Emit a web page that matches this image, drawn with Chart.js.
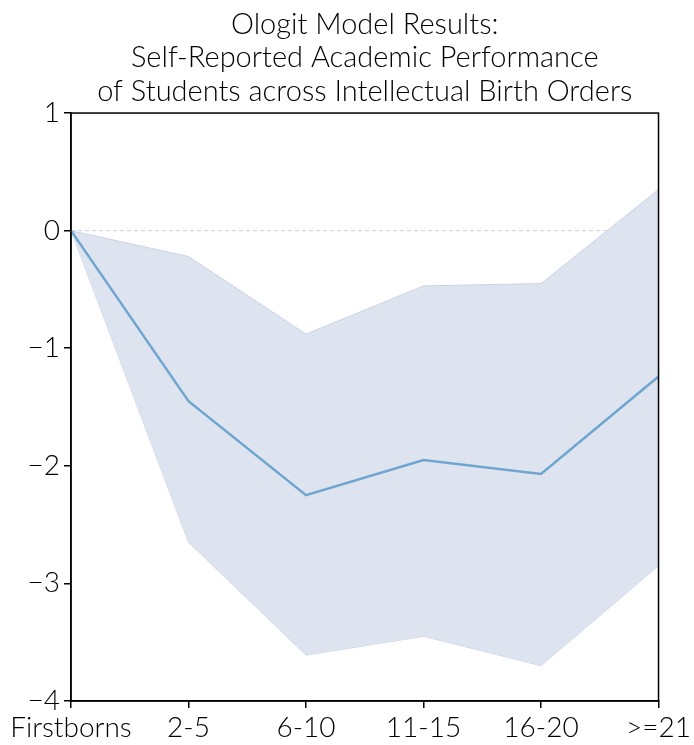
<!DOCTYPE html>
<html><head><meta charset="utf-8">
<script src="https://cdn.jsdelivr.net/npm/chart.js@4"></script>
<style>html,body{margin:0;padding:0;background:#fff}#wrap{width:694px;height:745px}</style>
</head><body><div id="wrap"><canvas id="c" width="694" height="745"></canvas></div>
<script>
const categories = ["Firstborns","2-5","6-10","11-15","16-20",">=21"];
const estimate = [0, -1.45, -2.25, -1.95, -2.07, -1.24];
const upper = [0, -0.22, -0.88, -0.47, -0.45, 0.35];
const lower = [0, -2.65, -3.61, -3.45, -3.70, -2.85];
const zeroRef = [0, 0, 0, 0, 0, 0];
const yTicks = [1, 0, -1, -2, -3, -4];
const titleLines = ["Ologit Model Results:", "Self-Reported Academic Performance", "of Students across Intellectual Birth Orders"];

const FONT = "Lato, 'Open Sans', sans-serif";

const frame = {
  id: 'frame',
  afterDatasetsDraw(chart) {
    const {ctx, chartArea: a} = chart;
    ctx.save();
    ctx.strokeStyle = '#000';
    ctx.lineWidth = 1.5;
    ctx.strokeRect(a.left, a.top, a.right - a.left, a.bottom - a.top);
    ctx.restore();
  }
};

new Chart(document.getElementById('c'), {
  type: 'line',
  data: {
    labels: categories,
    datasets: [
      {data: zeroRef, borderColor: '#c9cfe5', borderWidth: 1, borderDash: [4, 3], pointRadius: 0, fill: false, order: 3},
      {data: upper, borderColor: '#ccd3e7', borderWidth: 1, backgroundColor: '#dde3ef', pointRadius: 0, fill: '+1', tension: 0, order: 2},
      {data: lower, borderColor: '#ccd3e7', borderWidth: 1, pointRadius: 0, fill: false, tension: 0, order: 2},
      {data: estimate, borderColor: '#6fa6d0', borderWidth: 2.5, pointRadius: 0, fill: false, tension: 0, order: 1}
    ]
  },
  options: {
    responsive: false,
    animation: false,
    layout: {padding: {left: 0, right: 33, top: 0, bottom: 0}},
    plugins: {
      legend: {display: false},
      tooltip: {enabled: false},
      title: {
        display: true,
        text: titleLines,
        color: '#000',
        font: {family: FONT, size: 29, weight: 300, lineHeight: 1.15},
        padding: {top: 8, bottom: 5},
        fullSize: false
      }
    },
    scales: {
      x: {
        type: 'category',
        offset: false,
        grid: {display: true, drawOnChartArea: false, drawTicks: true, tickLength: 7, color: '#000', lineWidth: 1.5},
        border: {display: true, color: '#000', width: 1.5},
        ticks: {color: '#000', font: {family: FONT, size: 28, weight: 300}, padding: 3, maxRotation: 0, autoSkip: false},
        afterFit(s) { s.height = 44; }
      },
      y: {
        min: -4, max: 1,
        afterBuildTicks(s) { s.ticks = yTicks.map(v => ({value: v})); },
        grid: {display: true, drawOnChartArea: false, drawTicks: true, tickLength: 7, color: '#000', lineWidth: 1.5},
        border: {display: true, color: '#000', width: 1.5},
        ticks: {color: '#000', font: {family: FONT, size: 28, weight: 300}, padding: 4,
          callback: v => String(v).replace('-', '\u2212')},
        afterFit(s) { s.width = 71; }
      }
    }
  },
  plugins: [frame]
});
</script></body></html>
